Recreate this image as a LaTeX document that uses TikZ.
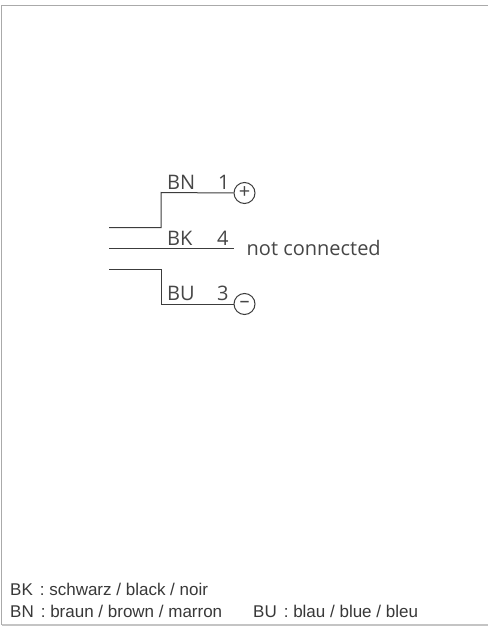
\documentclass[tikz,border=0pt]{standalone}
\usepackage{fontspec}
\setmainfont{Open Sans}
\newfontfamily\wirefont{Open Sans}
\newfontfamily\legendfont{Liberation Sans}
\definecolor{framegray}{RGB}{170,170,170}
\definecolor{wiregray}{RGB}{60,60,60}
\definecolor{textgray}{RGB}{70,70,70}
\tikzset{
  wire/.style={draw=wiregray,line width=1pt},
  pinlabel/.style={font=\wirefont\fontsize{20}{22}\selectfont,text=textgray,inner sep=0pt,anchor=base west},
  polecircle/.style={circle,draw=wiregray,line width=1pt,minimum size=21pt,inner sep=0pt,font=\wirefont\fontsize{20}{20}\selectfont,text=textgray},
  legend/.style={font=\legendfont\fontsize{17}{19}\selectfont,text=black!78,inner sep=0pt,anchor=base west}
}
\begin{document}
\begin{tikzpicture}[x=1pt,y=-1pt]
\useasboundingbox (0,0) rectangle (488,628);
\fill[white] (0,0) rectangle (488,628);
\draw[framegray,line width=1.2pt] (1.5,624.5) -- (1.5,5.5) -- (488,5.5);
\draw[framegray!70,line width=1.5pt] (1.5,624.8) -- (488,624.8);
\coordinate (a1) at (109,227.5);
\coordinate (a2) at (109,248.5);
\coordinate (a3) at (109,269);
\coordinate (k1) at (161,227.5);
\coordinate (k2) at (161,192.5);
\coordinate (k3) at (161,269);
\coordinate (k4) at (161,304);
\coordinate (e2) at (234,248.5);
\node[polecircle] (plus) at (244.5,193) {+};
\node[polecircle] (minus) at (244.5,304) {–};
\draw[wire] (a1) -- (k1) -- (k2) -- (plus.west);
\draw[wire] (a2) -- (e2);
\draw[wire] (a3) -- (k3) -- (k4) -- (minus.west);
\node[pinlabel] (bn) at (167,190) {BN};
\node[pinlabel] (n1) at (218,190) {1};
\node[pinlabel] (bk) at (167,245.7) {BK};
\node[pinlabel] (n4) at (217,245.7) {4};
\node[pinlabel] (bu) at (167,300.7) {BU};
\node[pinlabel] (n3) at (217,300.7) {3};
\node[pinlabel] (nc) at (246.5,255.7) {not connected};
\node[legend] (l1) at (10,595.7) {BK\hspace{7pt}: schwarz / black / noir};
\node[legend] (l2) at (10,617) {BN\hspace{7pt}: braun / brown / marron};
\node[legend] (l3) at (253,617) {BU\hspace{7pt}: blau / blue / bleu};
\end{tikzpicture}
\end{document}
